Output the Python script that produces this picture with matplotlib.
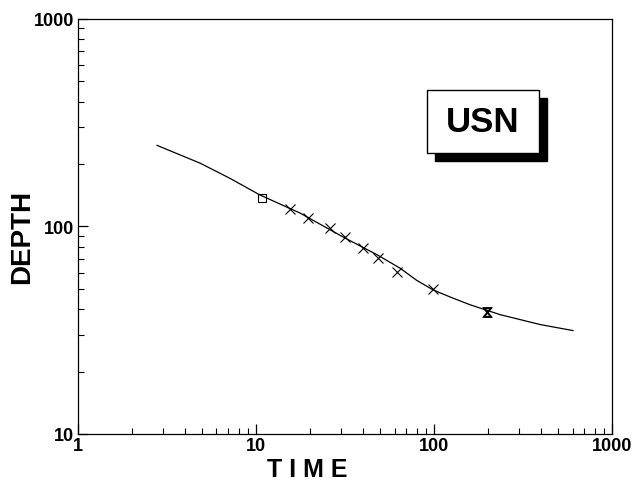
import matplotlib.pyplot as plt
from matplotlib.patches import Rectangle
from matplotlib.ticker import LogLocator, NullFormatter, FixedLocator

plt.rcParams['font.family'] = ['Liberation Sans', 'DejaVu Sans']

# fitted curve
curve_time = [2.78, 4.85, 7.2, 10.5, 17.7, 31.6, 48, 64.4, 80, 98.7, 125,
              159, 235, 394, 604]
curve_depth = [246, 202, 170, 142, 116, 88, 73, 63, 55, 49.5, 45.5,
               42, 37.6, 33.7, 31.5]

# measured points
pt_time = [10.8, 15.5, 19.6, 26, 31.6, 39.9, 48.5, 62, 98.7, 199]
pt_depth = [137, 121, 110, 98.4, 89, 78.9, 70.6, 60.5, 50.1, 38.9]
pt_marker = ['s', 'x', 'x', 'x', 'x', 'x', 'x', 'x', 'x', '$\u29D6$']

xticks = [1, 10, 100, 1000]
xtick_labels = ['1', '10', '100', '1000']
yticks = [10, 100, 1000]
ytick_labels = ['10', '100', '1000']

fig = plt.figure(figsize=(6.35, 4.85), dpi=100)
ax = fig.add_axes([0.1228, 0.1031, 0.841, 0.8557])

ax.plot(curve_time, curve_depth, '-', color='black', lw=0.9)
for t, d, m in zip(pt_time, pt_depth, pt_marker):
    ax.plot(t, d, marker=m, ls='none', color='black', ms=7 if m != 's' else 6,
            mew=0.8, mfc='none')

ax.set_xscale('log')
ax.set_yscale('log')
ax.set_xlim(1, 1000)
ax.set_ylim(10, 1000)

ax.xaxis.set_major_locator(FixedLocator(xticks))
ax.set_xticklabels(xtick_labels)
ax.yaxis.set_major_locator(FixedLocator(yticks))
ax.set_yticklabels(ytick_labels)
ax.xaxis.set_minor_locator(LogLocator(base=10, subs=range(2, 10)))
ax.yaxis.set_minor_locator(LogLocator(base=10, subs=range(2, 10)))
ax.xaxis.set_minor_formatter(NullFormatter())
ax.yaxis.set_minor_formatter(NullFormatter())

ax.tick_params(which='major', direction='in', length=7, width=0.9,
               labelsize=13, pad=3)
ax.tick_params(which='minor', direction='in', length=4, width=0.8)
ax.tick_params(axis='x', pad=2)
for lab in ax.get_xticklabels() + ax.get_yticklabels():
    lab.set_fontweight('bold')

for s in ax.spines.values():
    s.set_linewidth(0.9)

ax.set_xlabel('T I M E', fontsize=18, fontweight='bold')
ax.set_ylabel('DEPTH', fontsize=20, fontweight='bold')
ax.xaxis.set_label_coords(0.43, -0.055)
ax.yaxis.set_label_coords(-0.08, 0.477)

# USN box with shadow
shadow = Rectangle((547 / 635 - 112 / 635, 1 - 162 / 485), 112 / 635, 63 / 485,
                   transform=fig.transFigure, facecolor='black',
                   edgecolor='black', zorder=5)
box = Rectangle((427 / 635, 1 - 154 / 485), 112 / 635, 63 / 485,
                transform=fig.transFigure, facecolor='white',
                edgecolor='black', lw=1, zorder=6)
fig.patches.extend([shadow, box])
fig.text(483 / 635, 1 - 122 / 485, 'USN', fontsize=25, fontweight='bold',
         ha='center', va='center', zorder=7)

fig.savefig('out.png', dpi=100, facecolor='white')
